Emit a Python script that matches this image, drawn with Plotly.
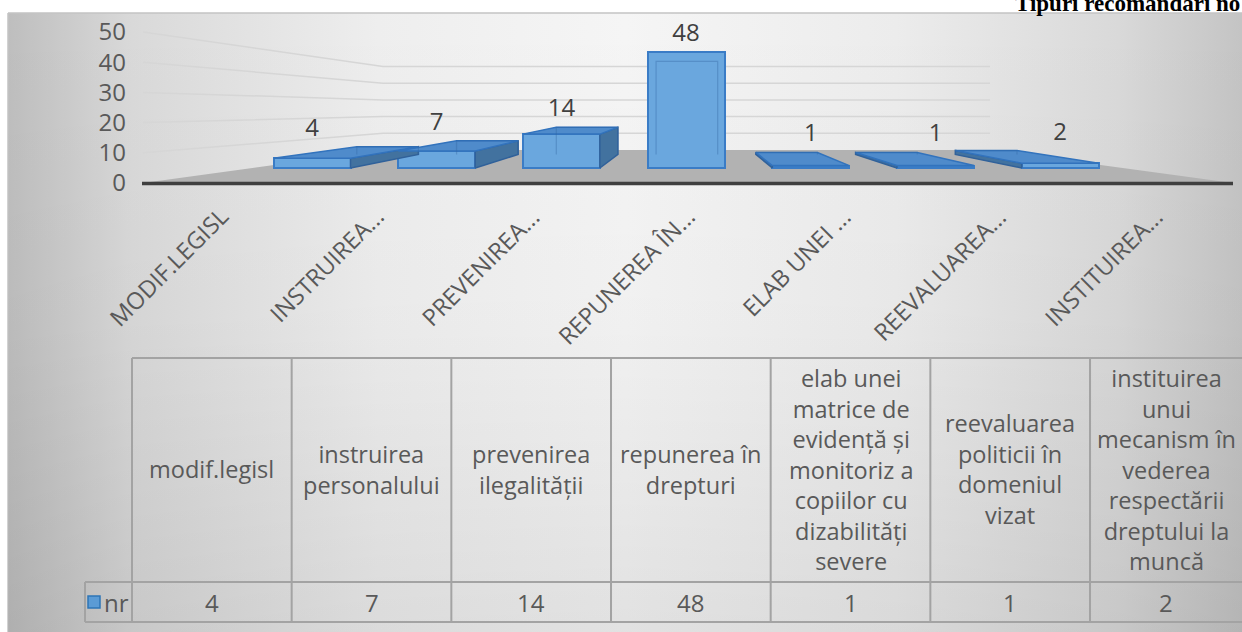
import plotly.graph_objects as go

# ---------------- data ----------------
categories = [
    "modif.legisl",
    "instruirea personalului",
    "prevenirea ilegalității",
    "repunerea în drepturi",
    "elab unei matrice de evidență și monitoriz a copiilor cu dizabilități severe",
    "reevaluarea politicii în domeniul vizat",
    "instituirea unui mecanism în vederea respectării dreptului la muncă",
]
axis_labels = ["MODIF.LEGISL", "INSTRUIREA...", "PREVENIREA...", "REPUNEREA ÎN...",
               "ELAB UNEI ...", "REEVALUAREA...", "INSTITUIREA..."]
table_labels = [
    "modif.legisl",
    "instruirea<br>personalului",
    "prevenirea<br>ilegalității",
    "repunerea în<br>drepturi",
    "elab unei<br>matrice de<br>evidență și<br>monitoriz a<br>copiilor cu<br>dizabilități<br>severe",
    "reevaluarea<br>politicii în<br>domeniul<br>vizat",
    "instituirea<br>unui<br>mecanism în<br>vederea<br>respectării<br>dreptului la<br>muncă",
]
values = [4, 7, 14, 48, 1, 1, 2]
series_name = "nr"
y_ticks = [0, 10, 20, 30, 40, 50]
title_text = "Tipuri recomandări no"

# ---------------- geometry (pixel layout) ----------------
W, H = 1242, 632
X0, DX = 312.0, 124.7      # front plane: px of category 0, px per category
Y0, DY = 168.0, 2.42       # front plane: px of value 0, px per unit
A0, DA = 183.0, 3.02       # axis label plane
VX, VY = 690.0, 100.0      # vanishing point (px)
F = 0.2                    # bar depth toward vanishing point
BAR_W = 77.0 / DX

FONT = "Open Sans"
TXT = "#595959"

xV = (VX - X0) / DX
yV = (Y0 - VY) / DY

def back(x, y):
    return x + F * (xV - x), y + F * (yV - y)

fig = go.Figure()

# ---- background (pixel subplot x/y) ----
bx = [8, W + 2, W + 2, 8, 8]
by = [13, 13, H + 2, H + 2, 13]
fig.add_trace(go.Scatter(
    x=bx, y=by, mode="lines", fill="toself",
    line=dict(color="#c4c4c4", width=1.5),
    fillgradient=dict(type="horizontal", start=8, stop=W,
                      colorscale=[[0, "#bebebe"], [0.1, "#d9d9d9"], [0.3, "#eeeeee"],
                                  [0.5, "#f5f5f5"], [0.72, "#ececec"], [0.9, "#d9d9d9"],
                                  [1, "#c4c4c4"]]),
    hoverinfo="skip", showlegend=False, xaxis="x", yaxis="y"))
fig.add_trace(go.Scatter(
    x=bx, y=by, mode="none", fill="toself",
    fillgradient=dict(type="vertical", start=13, stop=H,
                      colorscale=[[0, "rgba(0,0,0,0)"], [0.5, "rgba(0,0,0,0.02)"],
                                  [1, "rgba(0,0,0,0.08)"]]),
    hoverinfo="skip", showlegend=False, xaxis="x", yaxis="y"))

# floor
fig.add_trace(go.Scatter(
    x=[143, 383, 990, 1233, 143], y=[183, 150, 150, 183, 183],
    mode="none", fill="toself", fillcolor="#b2b2b2",
    hoverinfo="skip", showlegend=False, xaxis="x", yaxis="y"))

# gridlines (side wall -> back wall)
gx, gy = [], []
for v in y_ticks[1:]:
    yb = 150 - 1.67 * v
    gx += [143, 383, 990, None]
    gy += [A0 - DA * v, yb, yb, None]
fig.add_trace(go.Scatter(
    x=gx, y=gy, mode="lines", line=dict(color="#d6d6d6", width=1.5),
    hoverinfo="skip", showlegend=False, xaxis="x", yaxis="y"))

# axis base line
fig.add_trace(go.Scatter(
    x=[142, 1233], y=[183.5, 183.5], mode="lines",
    line=dict(color="#3f3f3f", width=3.5),
    hoverinfo="skip", showlegend=False, xaxis="x", yaxis="y"))

# ---- bars (data subplot x2/y2) ----
fig.add_trace(go.Bar(
    x=list(range(len(values))), y=values, width=BAR_W, name=series_name,
    marker=dict(color="#6aa7de", line=dict(color="#3a7cc6", width=2)),
    hoverinfo="skip", showlegend=False, xaxis="x2", yaxis="y2"))

top_x, top_y, side_x, side_y, edge_x, edge_y = [], [], [], [], [], []
for i, v in enumerate(values):
    x0, x1 = i - BAR_W / 2, i + BAR_W / 2
    if v < yV:
        p = [(x0, v), (x1, v), back(x1, v), back(x0, v), (x0, v)]
        top_x += [q[0] for q in p] + [None]
        top_y += [q[1] for q in p] + [None]
    xs = None
    if x1 < xV:
        xs = x1
    elif x0 > xV:
        xs = x0
    if xs is not None:
        p = [(xs, 0), (xs, v), back(xs, v), back(xs, 0), (xs, 0)]
        side_x += [q[0] for q in p] + [None]
        side_y += [q[1] for q in p] + [None]
    # see-through back edges
    bl, br = back(x0, 0), back(x1, 0)
    tl, tr = back(x0, v), back(x1, v)
    edge_x += [bl[0], tl[0], tr[0], br[0], None]
    edge_y += [bl[1], tl[1], tr[1], br[1], None]

fig.add_trace(go.Scatter(
    x=side_x, y=side_y, mode="lines", fill="toself", fillcolor="#42729f",
    line=dict(color="#30619a", width=1.5),
    hoverinfo="skip", showlegend=False, xaxis="x2", yaxis="y2"))
fig.add_trace(go.Scatter(
    x=top_x, y=top_y, mode="lines", fill="toself", fillcolor="#4f8bcb",
    line=dict(color="#3273bd", width=1.5),
    hoverinfo="skip", showlegend=False, xaxis="x2", yaxis="y2"))
fig.add_trace(go.Scatter(
    x=edge_x, y=edge_y, mode="lines",
    line=dict(color="rgba(50,100,160,0.35)", width=1.2),
    hoverinfo="skip", showlegend=False, xaxis="x2", yaxis="y2"))

# value labels
lab_y = []
for v in values:
    tv = max(v, v + F * (yV - v))
    lab_y.append(tv + 17.0 / DY)
fig.add_trace(go.Scatter(
    x=list(range(len(values))), y=lab_y, mode="text",
    text=[str(v) for v in values], textposition="middle center",
    textfont=dict(family=FONT, size=24, color="#404040"),
    hoverinfo="skip", showlegend=False, xaxis="x2", yaxis="y2", cliponaxis=False))

# dummy trace for tick-label axis
fig.add_trace(go.Scatter(
    x=[0], y=[0], mode="markers", marker=dict(opacity=0),
    hoverinfo="skip", showlegend=False, xaxis="x", yaxis="y3"))

annotations = []
shapes = []

# rotated category labels (perspective-spread along the front edge)
for i, lab in enumerate(axis_labels):
    xe = 704.4 + 1.249 * ((X0 + DX * i) - 686.1)
    annotations.append(dict(
        x=xe, y=198, xref="x", yref="y", text=lab, showarrow=False,
        textangle=-45, xanchor="right", yanchor="top",
        font=dict(family=FONT, size=23.5, color=TXT)))

# data table
T_LEFT, T_STEP = 132.0, 159.67
T_TOP, T_ROW, T_BOT = 358.0, 582.0, 622.0
LINE = dict(color="#a3a3a3", width=2)
n = len(categories)
right = T_LEFT + T_STEP * n
shapes.append(dict(type="line", xref="x", yref="y", x0=T_LEFT, x1=right, y0=T_TOP, y1=T_TOP, line=LINE))
shapes.append(dict(type="line", xref="x", yref="y", x0=85, x1=right, y0=T_ROW, y1=T_ROW, line=LINE))
shapes.append(dict(type="line", xref="x", yref="y", x0=85, x1=right, y0=T_BOT, y1=T_BOT, line=LINE))
shapes.append(dict(type="line", xref="x", yref="y", x0=85, x1=85, y0=T_ROW, y1=T_BOT, line=LINE))
for k in range(n + 1):
    xk = T_LEFT + T_STEP * k
    shapes.append(dict(type="line", xref="x", yref="y", x0=xk, x1=xk, y0=T_TOP, y1=T_BOT, line=LINE))
for k in range(n):
    xl = T_LEFT + T_STEP * k
    xc = min(xl + T_STEP / 2, (xl + W) / 2)
    annotations.append(dict(
        x=xc, y=469, xref="x", yref="y", text=table_labels[k], showarrow=False,
        xanchor="center", yanchor="middle", align="center",
        font=dict(family=FONT, size=23.5, color=TXT)))
    annotations.append(dict(
        x=xc, y=602, xref="x", yref="y", text=str(values[k]), showarrow=False,
        xanchor="center", yanchor="middle",
        font=dict(family=FONT, size=24, color=TXT)))

# legend key in table
shapes.append(dict(type="rect", xref="x", yref="y", x0=88, x1=100, y0=596, y1=608,
                   fillcolor="#5b9bd5", line=dict(color="#2e75b6", width=1.5)))
annotations.append(dict(
    x=102, y=602, xref="x", yref="y", text=series_name, showarrow=False,
    xanchor="left", yanchor="middle", font=dict(family=FONT, size=24, color=TXT)))

# title at top right (clipped by the top edge, as in the original)
annotations.append(dict(
    x=1013, y=18, xref="x", yref="y", text="<b>" + title_text + "</b>", showarrow=False,
    xanchor="left", yanchor="bottom",
    font=dict(family="Liberation Serif, Times New Roman, serif", size=23, color="#000000")))

fig.update_layout(
    width=W, height=H, autosize=False,
    margin=dict(l=0, r=0, t=0, b=0, pad=0),
    paper_bgcolor="#ffffff", plot_bgcolor="rgba(0,0,0,0)",
    showlegend=False, bargap=0,
    xaxis=dict(range=[0, W], visible=False, domain=[0, 1], fixedrange=True),
    yaxis=dict(range=[H, 0], visible=False, domain=[0, 1], fixedrange=True),
    xaxis2=dict(range=[(0 - X0) / DX, (W - X0) / DX], visible=False,
                overlaying="x", anchor="y2", fixedrange=True),
    yaxis2=dict(range=[(Y0 - H) / DY, Y0 / DY], visible=False,
                overlaying="y", anchor="x2", fixedrange=True),
    yaxis3=dict(range=[(A0 - H) / DA, A0 / DA], overlaying="y", anchor="free",
                position=126.0 / W, side="left", tickvals=y_ticks,
                ticktext=[str(t) for t in y_ticks], showgrid=False, zeroline=False,
                showline=False, ticks="", fixedrange=True,
                tickfont=dict(family=FONT, size=24, color=TXT)),
    shapes=shapes, annotations=annotations,
)

fig.write_html("out.html", config={"displayModeBar": False},
               post_script="document.body.style.margin='0px';document.body.style.overflow='hidden';")
